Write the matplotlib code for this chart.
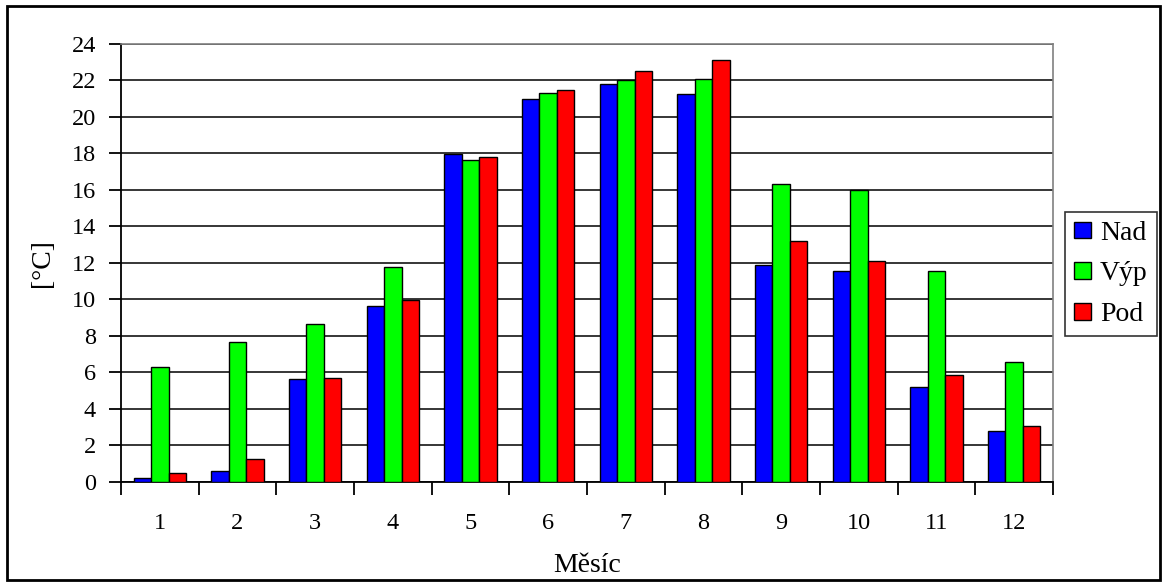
import numpy as np
import matplotlib
matplotlib.use("Agg")
import matplotlib.pyplot as plt
from matplotlib.patches import Rectangle

months = [1, 2, 3, 4, 5, 6, 7, 8, 9, 10, 11, 12]
nad = [0.22, 0.62, 5.63, 9.66, 17.99, 21.0, 21.81, 21.24, 11.89, 11.58, 5.22, 2.78]
vyp = [6.32, 7.69, 8.64, 11.80, 17.66, 21.33, 22.03, 22.10, 16.31, 16.0, 11.58, 6.58]
pod = [0.47, 1.26, 5.70, 9.97, 17.83, 21.48, 22.50, 23.14, 13.22, 12.13, 5.86, 3.09]
series = ["Nad", "Výp", "Pod"]
colors = ["#0000ff", "#00ff00", "#ff0000"]
yticks = list(range(0, 25, 2))

plt.rcParams['font.family'] = ['Liberation Serif', 'DejaVu Serif']

fig = plt.figure(figsize=(11.63, 5.84), dpi=100)
ax = fig.add_axes([0.104, 0.1747, 0.8014, 0.75])

x = np.arange(len(months))
w = 0.225
for i, (vals, name, c) in enumerate(zip([nad, vyp, pod], series, colors)):
    ax.bar(x + (i - 1) * w, vals, width=w, color=c, edgecolor='black',
           linewidth=1, label=name, zorder=3)

ax.set_xlim(-0.5, len(months) - 0.5)
ax.set_ylim(0, 24)
ax.set_yticks(yticks)
ax.set_xticks(x)
ax.set_xticklabels([str(m) for m in months])
ax.set_xticks(np.arange(-0.5, len(months), 1), minor=True)
ax.tick_params(axis='x', which='major', length=0, labelsize=17.5, pad=22)
ax.tick_params(axis='x', which='minor', length=9, width=1.3, direction='out')
ax.tick_params(axis='y', length=9, width=1.3, direction='out', labelsize=17.5, pad=9)
ax.yaxis.grid(True, color='black', linewidth=1.1, zorder=0)
ax.set_axisbelow(True)

for s in ['left', 'bottom']:
    ax.spines[s].set_linewidth(1.3)
    ax.spines[s].set_color('black')
for s in ['top', 'right']:
    ax.spines[s].set_linewidth(1.2)
    ax.spines[s].set_color('#808080')

ax.set_xlabel('Měsíc', fontsize=20, labelpad=14)
ax.set_ylabel('[°C]', fontsize=20, labelpad=12)

leg = ax.legend(loc='upper left', bbox_to_anchor=(1065 / 1163, 1 - 212 / 584),
                bbox_transform=fig.transFigure, fontsize=20, frameon=True,
                fancybox=False, edgecolor='black', handlelength=0.62,
                handleheight=0.55, handletextpad=0.32, borderpad=0.32,
                labelspacing=0.56, borderaxespad=0)
leg.get_frame().set_linewidth(1.2)

fig.patches.append(Rectangle((7 / 1163, 4 / 584), 1153 / 1163, 574 / 584,
                             transform=fig.transFigure, fill=False,
                             edgecolor='black', linewidth=2))

fig.savefig('out.png', dpi=100)
